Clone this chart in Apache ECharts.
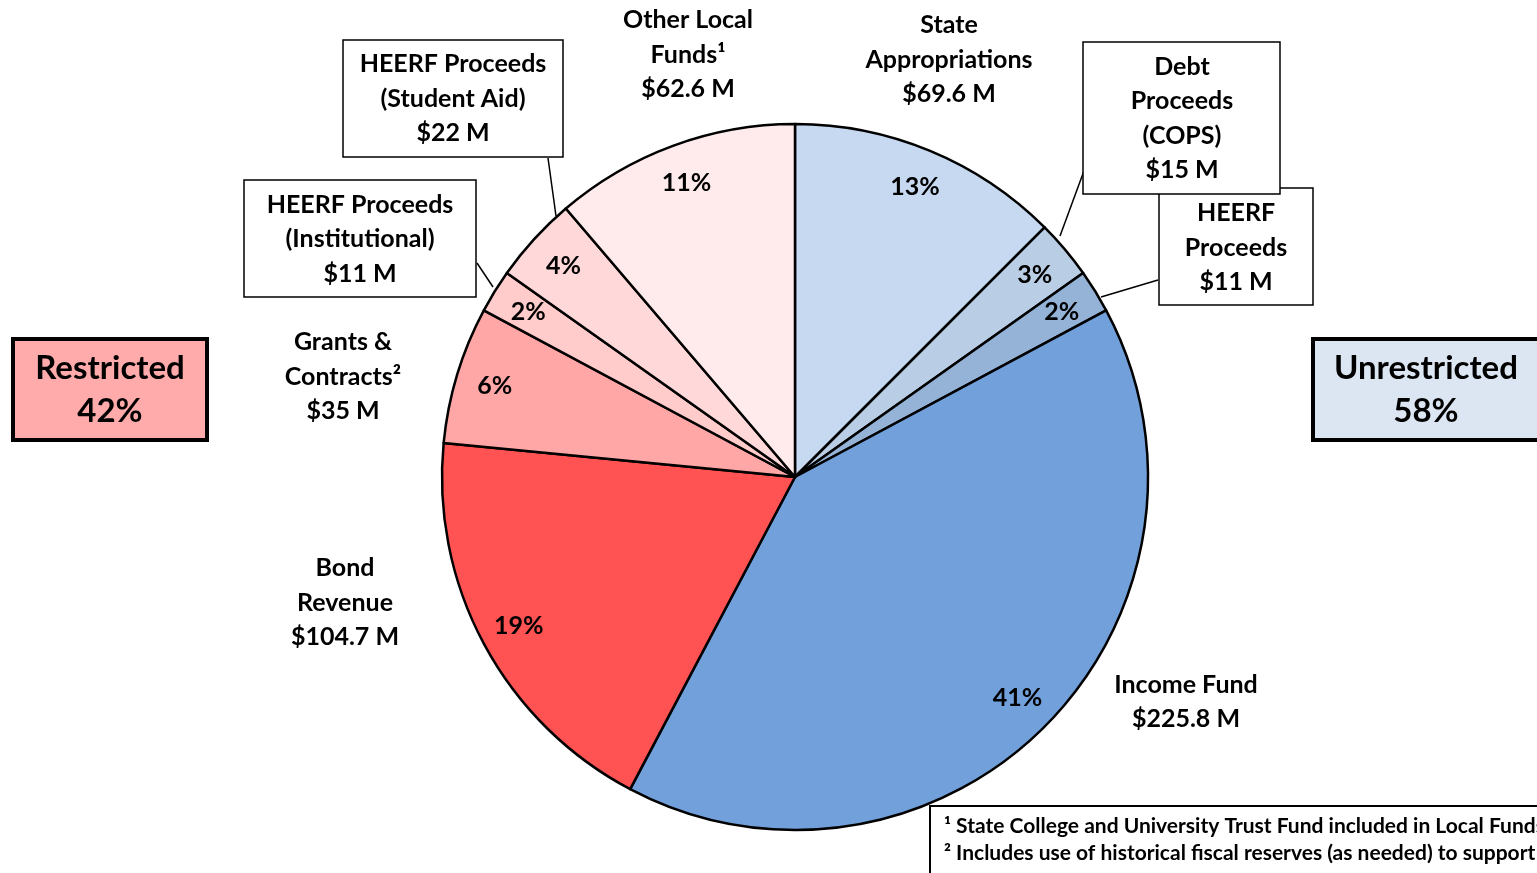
<!DOCTYPE html>
<html>
<head>
<meta charset="utf-8">
<script src="https://cdn.jsdelivr.net/npm/echarts@6/dist/echarts.min.js"></script>
<style>
  html, body { margin: 0; padding: 0; background: #fff; }
  #chart { width: 1537px; height: 873px; }
</style>
</head>
<body>
<div id="chart"></div>
<script>
// slices, clockwise from 12 o'clock
const categories = ['State Appropriations', 'Debt Proceeds (COPS)', 'HEERF Proceeds', 'Income Fund', 'Bond Revenue',
    'Grants & Contracts', 'HEERF Proceeds (Institutional)', 'HEERF Proceeds (Student Aid)', 'Other Local Funds'];
const amounts = [69.6, 15, 11, 225.8, 104.7, 35, 11, 22, 62.6];
const restricted = [false, false, false, false, true, true, true, true, true];
const labelNames = [
    ['State', 'Appropriations'],
    ['Debt', 'Proceeds', '(COPS)'],
    ['HEERF', 'Proceeds'],
    ['Income Fund'],
    ['Bond', 'Revenue'],
    ['Grants &', 'Contracts\u00b2'],
    ['HEERF Proceeds', '(Institutional)'],
    ['HEERF Proceeds', '(Student Aid)'],
    ['Other Local', 'Funds\u00b9']
];
const footnotes = [
    '\u00b9 State College and University Trust Fund included in Local Funds',
    '\u00b2 Includes use of historical fiscal reserves (as needed) to support'
];

const colors = ['#C6D9F1', '#B9CDE5', '#95B3D7', '#71A0DB', '#FF5252', '#FFA7A7', '#FFCBCB', '#FFD9D9', '#FFEBEB'];
// label placement: text centre, optional box and leader line
const layout = [
    { x: 949, y: 59.5 },
    { x: 1182, y: 118.5, box: [1083, 42, 1280, 194], line: [1088, 160, 1060, 236] },
    { x: 1236, y: 247.5, box: [1159, 188, 1313, 305], line: [1158, 280, 1101, 297] },
    { x: 1186, y: 702 },
    { x: 345, y: 602.5 },
    { x: 343, y: 376.5 },
    { x: 360, y: 239, box: [244, 180, 476, 297], line: [477, 263, 493, 287] },
    { x: 453, y: 98.5, box: [343, 40, 563, 157], line: [548, 158, 556, 216] },
    { x: 688, y: 54.5 }
];
const FONT = 'Lato, "Open Sans", sans-serif';
const cx = 795, cy = 477, R = 353;

document.addEventListener('DOMContentLoaded', () => {
    const chart = echarts.init(document.getElementById('chart'));
    const total = amounts.reduce((a, b) => a + b, 0);
    const data = categories.map((name, i) => ({ name: name, value: amounts[i], itemStyle: { color: colors[i] } }));
    const restrictedPct = Math.round(100 * amounts.filter((v, i) => restricted[i]).reduce((a, b) => a + b, 0) / total);

    const graphic = [];
    // draw in an order so the Debt box sits over the HEERF box
    const order = [0, 2, 1, 3, 4, 5, 6, 7, 8];
    order.forEach(i => {
        const l = layout[i];
        const text = labelNames[i].concat(['$' + amounts[i] + ' M']).join('\n');
        if (l.line) {
            graphic.push({ type: 'line', z: 50, shape: { x1: l.line[0], y1: l.line[1], x2: l.line[2], y2: l.line[3] },
                style: { stroke: '#000', lineWidth: 1.5 } });
        }
        if (l.box) {
            graphic.push({ type: 'rect', z: 50, shape: { x: l.box[0], y: l.box[1], width: l.box[2] - l.box[0], height: l.box[3] - l.box[1] },
                style: { fill: '#fff', stroke: '#000', lineWidth: 1.5 } });
        }
        graphic.push({ type: 'text', z: 51, x: l.x, y: l.y,
            style: { text: text, fill: '#000', font: 'bold 25px ' + FONT, lineHeight: 34.5, align: 'center', verticalAlign: 'middle' } });
    });

    // restricted / unrestricted boxes
    graphic.push(
        { type: 'rect', z: 50, shape: { x: 13, y: 339, width: 194, height: 101 }, style: { fill: '#FFABAB', stroke: '#000', lineWidth: 4 } },
        { type: 'text', z: 51, x: 110, y: 390, style: { text: 'Restricted\n' + restrictedPct + '%', fill: '#000',
            font: 'bold 33px ' + FONT, lineHeight: 43, align: 'center', verticalAlign: 'middle' } },
        { type: 'rect', z: 50, shape: { x: 1313, y: 339, width: 240, height: 101 }, style: { fill: '#DCE6F2', stroke: '#000', lineWidth: 4 } },
        { type: 'text', z: 51, x: 1426, y: 390, style: { text: 'Unrestricted\n' + (100 - restrictedPct) + '%', fill: '#000',
            font: 'bold 33px ' + FONT, lineHeight: 43, align: 'center', verticalAlign: 'middle' } },
        { type: 'rect', z: 50, shape: { x: 930, y: 806, width: 620, height: 80 }, style: { fill: '#fff', stroke: '#000', lineWidth: 2 } },
        { type: 'text', z: 51, x: 944, y: 840, style: { text: footnotes.join('\n'), fill: '#000',
            font: 'bold 21px ' + FONT, lineHeight: 27, align: 'left', verticalAlign: 'middle' } }
    );

    const option = {
        animation: false,
        graphic: graphic,
        series: [
            {
                type: 'pie',
                center: [cx, cy],
                radius: R,
                startAngle: 90,
                clockwise: true,
                silent: true,
                data: data,
                label: { show: false },
                labelLine: { show: false },
                itemStyle: { borderColor: '#000', borderWidth: 2.5 }
            },
            {
                // transparent ring that carries the percentage labels near the rim
                type: 'pie',
                center: [cx, cy],
                radius: [R * 0.76, R],
                startAngle: 90,
                clockwise: true,
                silent: true,
                z: 3,
                data: categories.map((name, i) => ({ name: name, value: amounts[i] })),
                itemStyle: { color: 'rgba(0,0,0,0)', borderWidth: 0 },
                label: {
                    show: true,
                    position: 'inside',
                    fontFamily: FONT,
                    fontWeight: 'bold',
                    fontSize: 25,
                    color: '#000',
                    formatter: p => Math.round(p.value / total * 100) + '%'
                },
                labelLine: { show: false }
            }
        ]
    };

    chart.setOption(option);
});
</script>
</body>
</html>
